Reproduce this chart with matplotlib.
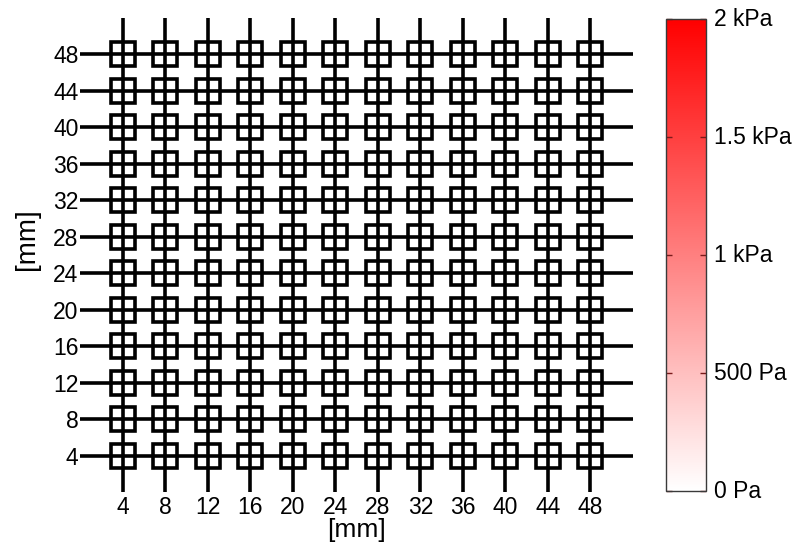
import matplotlib
matplotlib.use("Agg")
import matplotlib.pyplot as plt
import numpy as np
from matplotlib.colors import LinearSegmentedColormap
from matplotlib.cm import ScalarMappable
from matplotlib.colors import Normalize

plt.rcParams['font.family'] = ['Liberation Sans', 'DejaVu Sans']

# Data
x_positions = [4, 8, 12, 16, 20, 24, 28, 32, 36, 40, 44, 48]
y_positions = [4, 8, 12, 16, 20, 24, 28, 32, 36, 40, 44, 48]
x_limits = [0, 52]
y_limits = [0, 52]
cbar_ticks = [0, 500, 1000, 1500, 2000]
cbar_labels = ["0 Pa", "500 Pa", "1 kPa", "1.5 kPa", "2 kPa"]
x_label = "[mm]"
y_label = "[mm]"

fig = plt.figure(figsize=(7.94, 5.45), dpi=100)
ax = fig.add_axes([80/794, 1-492/545, (633-80)/794, (492-18)/545])

lw = 2.6
for xv in x_positions:
    ax.axvline(xv, color='black', lw=lw, zorder=2)
for yv in y_positions:
    ax.axhline(yv, color='black', lw=lw, zorder=2)

gx, gy = np.meshgrid(x_positions, y_positions)
ax.plot(gx.ravel(), gy.ravel(), linestyle='none', marker='s', markersize=17.5,
        markerfacecolor='none', markeredgecolor='black', markeredgewidth=2.6, zorder=3)

ax.set_xlim(x_limits)
ax.set_ylim(y_limits)
ax.set_xticks(x_positions)
ax.set_yticks(y_positions)
ax.tick_params(length=0, labelsize=16.5, pad=1)
ax.tick_params(axis='x', pad=3)
for s in ax.spines.values():
    s.set_visible(False)
ax.set_xlabel(x_label, fontsize=19, labelpad=-1)
ax.set_ylabel(y_label, fontsize=20)
ax.yaxis.set_label_coords(-0.072, 0.534)

# Colorbar
cax = fig.add_axes([666/794, 1-491/545, 40/794, (491-19)/545])
cmap = LinearSegmentedColormap.from_list('wr', ['#ffffff', '#ff0000'])
sm = ScalarMappable(norm=Normalize(vmin=0, vmax=2000), cmap=cmap)
cb = fig.colorbar(sm, cax=cax)
cb.set_ticks(cbar_ticks)
cb.set_ticklabels(cbar_labels)
cb.outline.set_edgecolor('#3a3a3a')
cb.outline.set_linewidth(1.0)
cax.tick_params(axis='y', which='both', direction='in', length=4, width=1, color='#7a1a1a',
                labelsize=16.5, pad=6, left=True, right=True)
for t in cax.get_yticklabels():
    t.set_verticalalignment('center')

fig.savefig("out.png", dpi=100)
